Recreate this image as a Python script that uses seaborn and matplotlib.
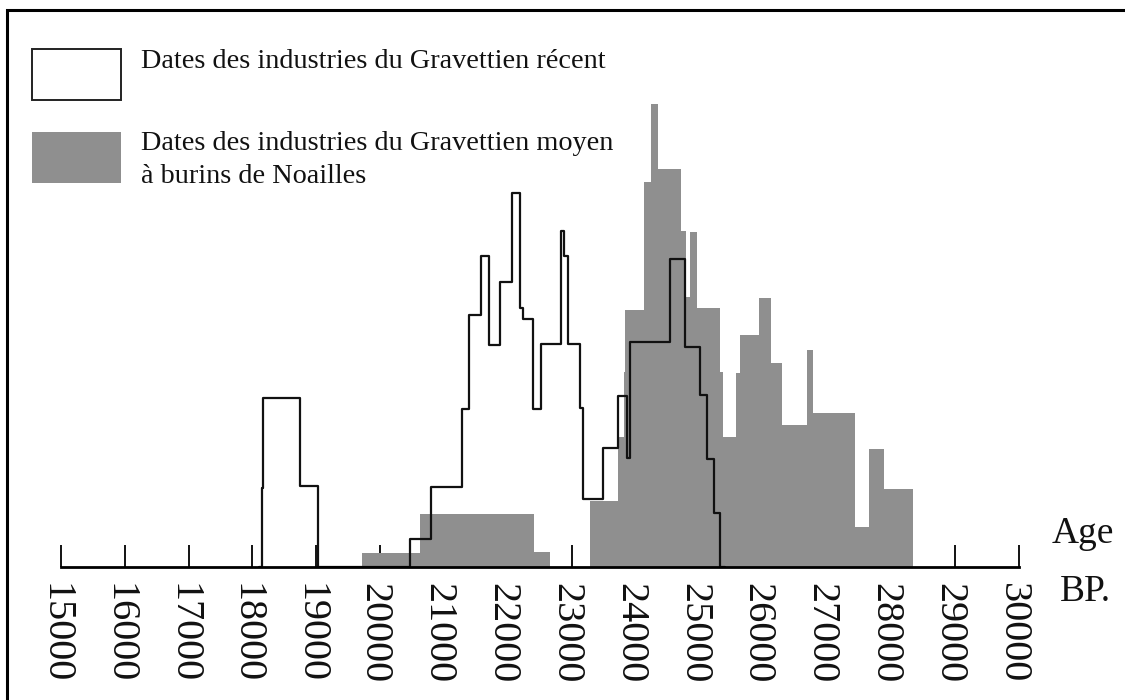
import numpy as np
import pandas as pd
import matplotlib
matplotlib.use("Agg")
import matplotlib.pyplot as plt
from matplotlib.patches import Rectangle
from matplotlib.transforms import ScaledTranslation
import seaborn as sns

# Gravettien recent : bornes des classes (ans BP) et hauteurs (unites relatives)
bornes_recent = [18100, 18146, 18171, 18746, 19024, 20470, 20791, 21277, 21387,
                 21583, 21708, 21880, 22064, 22194, 22233, 22390, 22515, 22829,
                 22888, 22946, 23134, 23173, 23499, 23734, 23863, 23907, 24534,
                 24769, 25015, 25120, 25223, 25317, 25400]
hauteurs_recent = [0, 79, 169, 81, 0, 28, 80, 158, 252, 311, 222, 285, 374, 259,
                   248, 158, 223, 336, 311, 223, 159, 68, 119, 171, 109, 225, 308,
                   220, 172, 108, 54, 0]

# Gravettien moyen a burins de Noailles
bornes_moyen = [19713, 20619, 22418, 22669, 23291, 23719, 23813, 23839, 24126,
                24247, 24346, 24717, 24795, 24847, 24963, 25320, 25367, 25579,
                25631, 25939, 26123, 26295, 26687, 26786, 27444, 27652, 27901, 28353]
hauteurs_moyen = [14, 53, 15, 0, 66, 130, 195, 257, 385, 463, 398, 336, 270, 335,
                  259, 195, 130, 194, 232, 269, 204, 142, 217, 154, 40, 118, 78]

ticks_age = list(range(15000, 30001, 1000))

label_recent = "Dates des industries du Gravettien récent"
label_moyen = "Dates des industries du Gravettien moyen\nà burins de Noailles"


def table_classes(bornes, hauteurs):
    b = np.array(bornes, dtype=float)
    return pd.DataFrame({"age": (b[:-1] + b[1:]) / 2, "poids": hauteurs})


sns.set_theme(style="white")
plt.rcParams['font.family'] = ['Liberation Serif', 'DejaVu Serif']

W, H = 1125, 700
fig = plt.figure(figsize=(11.25, 7), dpi=100)
x0, x1 = 60.9, 1018.5
base, top = 566.7, 10
ax = fig.add_axes([x0 / W, (H - base) / H, (x1 - x0) / W, (base - top) / H])

gris = "#8f8f8f"

df_moyen = table_classes(bornes_moyen, hauteurs_moyen)
sns.histplot(data=df_moyen, x="age", weights="poids", bins=bornes_moyen,
             element="step", fill=True, color=gris, alpha=1, linewidth=0, ax=ax)

df_recent = table_classes(bornes_recent, hauteurs_recent)
sns.histplot(data=df_recent, x="age", weights="poids", bins=bornes_recent,
             element="step", fill=False, color="#111111", linewidth=1.6, ax=ax)

ax.set_xlim(15000, 30000)
ax.set_ylim(0, base - top)
ax.set_ylabel("")
ax.set_xlabel("")
ax.set_yticks([])
ax.set_facecolor("none")
for s in ["top", "right", "left"]:
    ax.spines[s].set_visible(False)
ax.spines["bottom"].set_linewidth(2.0)
ax.spines["bottom"].set_color("black")
ax.set_xticks(ticks_age)
ax.set_xticklabels([str(t) for t in ticks_age])
ax.tick_params(axis="x", direction="in", length=16, width=1.3, color="black",
               pad=12, labelsize=29, labelrotation=-90, bottom=True)
# recentrer les etiquettes tournees sur les graduations
decalage = ScaledTranslation(-6 / 100, 0, fig.dpi_scale_trans)
for lab in ax.get_xticklabels():
    lab.set_transform(lab.get_transform() + decalage)
    lab.set_color("#111111")

# cadre de la figure
fig.patches.append(Rectangle((7 / W, -0.1), 1.2, 1.1 - 10 / H, transform=fig.transFigure,
                             fill=False, edgecolor="black", linewidth=2.2, clip_on=False))

# legende
fig.patches.append(Rectangle((32 / W, 1 - 100 / H), 89 / W, 51 / H, transform=fig.transFigure,
                             facecolor="white", edgecolor="#222222", linewidth=1.4))
fig.patches.append(Rectangle((32 / W, 1 - 183 / H), 89 / W, 51 / H, transform=fig.transFigure,
                             facecolor=gris, edgecolor="none"))
fig.text(141 / W, 1 - 68 / H, label_recent, fontsize=20.3, va="baseline", ha="left", color="#111111")
lignes = label_moyen.split("\n")
fig.text(141 / W, 1 - 150 / H, lignes[0], fontsize=20.3, va="baseline", ha="left", color="#111111")
fig.text(141 / W, 1 - 183 / H, lignes[1], fontsize=20.3, va="baseline", ha="left", color="#111111")

fig.text(1083 / W, 1 - 543 / H, "Age", fontsize=27, va="baseline", ha="center", color="#111111")
fig.text(1085 / W, 1 - 601 / H, "BP.", fontsize=27, va="baseline", ha="center", color="#111111")

fig.savefig("out.png", dpi=100)
